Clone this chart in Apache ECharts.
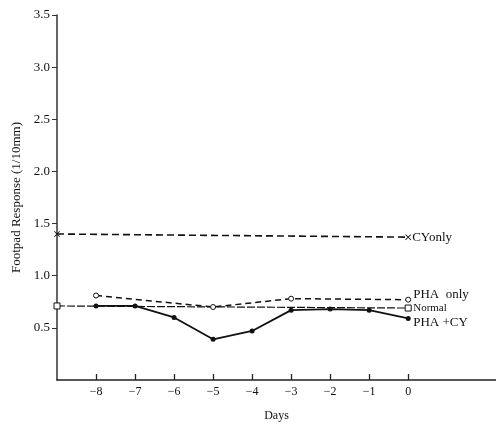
<!DOCTYPE html>
<html>
<head>
<meta charset="utf-8">
<script src="https://cdn.jsdelivr.net/npm/echarts@6/dist/echarts.min.js"></script>
<style>
html,body{margin:0;padding:0;background:#fff;}
#main{width:496px;height:428px;}
</style>
</head>
<body>
<div id="main"></div>
<script>
// ticks shown on the axes
var dayTicks = [-8, -7, -6, -5, -4, -3, -2, -1, 0];
var responseTicks = [0.5, 1.0, 1.5, 2.0, 2.5, 3.0, 3.5];

// series
var cyDays = [-9, 0];
var cyValues = [1.40, 1.37];

var phaDays = [-8, -5, -3, 0];
var phaValues = [0.81, 0.70, 0.78, 0.77];

var normalDays = [-9, 0];
var normalValues = [0.71, 0.69];

var phaCyDays = [-8, -7, -6, -5, -4, -3, -2, -1, 0];
var phaCyValues = [0.71, 0.71, 0.60, 0.39, 0.47, 0.67, 0.68, 0.67, 0.59];

function pairs(xs, ys) {
    return xs.map(function (x, i) { return [x, ys[i]]; });
}

var font = '"Liberation Serif", "DejaVu Serif", serif';
var crossSymbol = 'path://M0,1L1,0L5,4L9,0L10,1L6,5L10,9L9,10L5,6L1,10L0,9L4,5Z';

var chart = echarts.init(document.getElementById('main'));
chart.setOption({
    backgroundColor: '#fff',
    animation: false,
    textStyle: { fontFamily: font, color: '#111' },
    grid: { left: 57, right: 0, top: 15, bottom: 48 },
    xAxis: {
        type: 'value',
        min: -9,
        max: 2.25,
        name: 'Days',
        nameLocation: 'middle',
        nameGap: 30,
        nameTextStyle: { fontFamily: font, fontSize: 12, color: '#111' },
        splitLine: { show: false },
        axisLine: { onZero: false, lineStyle: { color: '#222', width: 1.5 } },
        axisTick: { inside: true, length: 6, customValues: dayTicks, lineStyle: { color: '#222', width: 1.3 } },
        axisLabel: {
            customValues: dayTicks,
            fontFamily: font, fontSize: 12, color: '#111', margin: 6,
            formatter: function (v) { return v < 0 ? '\u2212' + Math.abs(v) : String(v); }
        }
    },
    yAxis: {
        type: 'value',
        min: 0,
        max: 3.5,
        name: 'Footpad Response (1/10mm)',
        nameLocation: 'middle',
        nameGap: 34,
        nameTextStyle: { fontFamily: font, fontSize: 13, color: '#111' },
        splitLine: { show: false },
        axisLine: { onZero: false, lineStyle: { color: '#333', width: 1.5 } },
        axisTick: { length: 5, customValues: responseTicks, lineStyle: { color: '#333' } },
        axisLabel: {
            customValues: responseTicks,
            fontFamily: font, fontSize: 13, color: '#111', margin: 7,
            formatter: function (v) { return v.toFixed(1); }
        }
    },
    series: [
        {
            name: 'CY only', type: 'line', data: pairs(cyDays, cyValues),
            symbol: crossSymbol, symbolSize: 6,
            itemStyle: { color: '#111' },
            lineStyle: { color: '#111', width: 1.6, type: [7, 4] },
            endLabel: { show: true, formatter: 'CYonly', fontFamily: font, fontSize: 13, color: '#111', distance: 4 }
        },
        {
            name: 'PHA only', type: 'line', data: pairs(phaDays, phaValues),
            symbol: 'circle', symbolSize: 5,
            itemStyle: { color: '#fff', borderColor: '#111', borderWidth: 1 },
            lineStyle: { color: '#111', width: 1.5, type: [6, 4] },
            endLabel: { show: true, formatter: 'PHA  only', fontFamily: font, fontSize: 13, color: '#111', distance: 5, offset: [0, -5] }
        },
        {
            name: 'Normal', type: 'line', data: pairs(normalDays, normalValues),
            symbol: 'rect', symbolSize: 6,
            itemStyle: { color: '#fff', borderColor: '#111', borderWidth: 1 },
            lineStyle: { color: '#111', width: 1.2, type: [8, 2] },
            endLabel: { show: true, formatter: 'Normal', fontFamily: font, fontSize: 11, color: '#111', distance: 5 }
        },
        {
            name: 'PHA + CY', type: 'line', data: pairs(phaCyDays, phaCyValues),
            symbol: 'circle', symbolSize: 5,
            itemStyle: { color: '#111' },
            lineStyle: { color: '#111', width: 1.8 },
            endLabel: { show: true, formatter: 'PHA +CY', fontFamily: font, fontSize: 13, color: '#111', distance: 5, offset: [0, 4] }
        }
    ]
});
</script>
</body>
</html>
